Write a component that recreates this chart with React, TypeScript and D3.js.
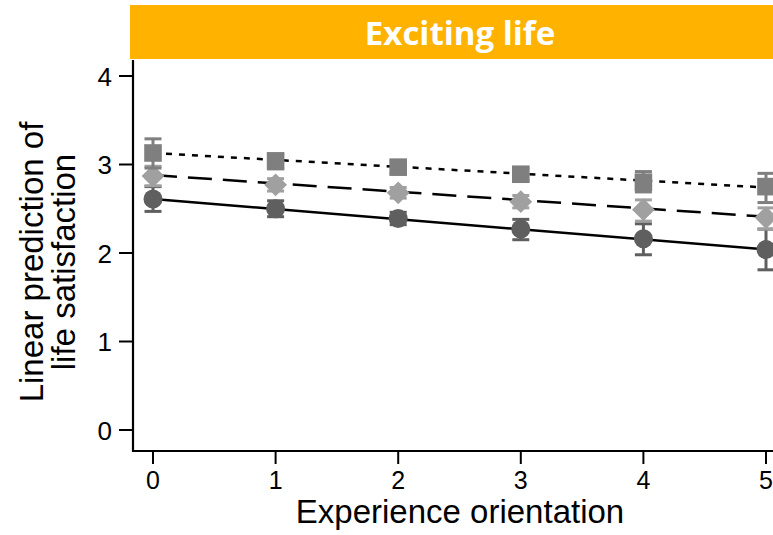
import React from "react";
import * as d3 from "d3";

const xValues = [0, 1, 2, 3, 4, 5];
const squareMean = [3.13, 3.04, 2.97, 2.89, 2.8, 2.75];
const squareLo = [2.96, 2.95, 2.9, 2.82, 2.69, 2.57];
const squareHi = [3.29, 3.12, 3.04, 2.96, 2.92, 2.9];
const squareFit = [3.13, 2.74];
const diamondMean = [2.87, 2.77, 2.68, 2.58, 2.49, 2.4];
const diamondLo = [2.76, 2.7, 2.62, 2.51, 2.36, 2.27];
const diamondHi = [2.98, 2.84, 2.74, 2.65, 2.6, 2.51];
const diamondFit = [2.88, 2.41];
const circleMean = [2.61, 2.5, 2.39, 2.27, 2.16, 2.04];
const circleLo = [2.47, 2.41, 2.32, 2.15, 1.98, 1.81];
const circleHi = [2.75, 2.59, 2.46, 2.38, 2.33, 2.27];
const circleFit = [2.61, 2.04];
const yTicks = [0, 1, 2, 3, 4];
const title = "Exciting life";
const xTitle = "Experience orientation";
const yTitle = ["Linear prediction of", "life satisfaction"];

const W = 773, H = 535;
const x = d3.scaleLinear().domain([0, 5]).range([153, 766]);
const y = d3.scaleLinear().domain([0, 4]).range([430, 76]);

type S = { mean: number[]; lo: number[]; hi: number[]; fit: number[]; color: string; shape: string; dash: string };
const series: S[] = [
  { mean: circleMean, lo: circleLo, hi: circleHi, fit: circleFit, color: "#5f5f5f", shape: "circle", dash: "none" },
  { mean: diamondMean, lo: diamondLo, hi: diamondHi, fit: diamondFit, color: "#a0a0a0", shape: "diamond", dash: "24,11" },
  { mean: squareMean, lo: squareLo, hi: squareHi, fit: squareFit, color: "#7f7f7f", shape: "square", dash: "6,7" },
];

const symGen = (shape: string) => {
  if (shape === "circle") return d3.symbol(d3.symbolCircle, 285)();
  if (shape === "square") return d3.symbol(d3.symbolSquare, 310)();
  return d3.symbol(d3.symbolDiamond2, 330)();
};

export default function App() {
  const line = d3.line<[number, number]>().x((d) => x(d[0])).y((d) => y(d[1]));
  const font = "'Liberation Sans', Arial, sans-serif";
  const axisY = 451;
  return (
    <svg width={W} height={H} style={{ position: "absolute", left: 0, top: 0, background: "#fff" }}>
      <rect x={130} y={5} width={680} height={54} fill="#FFB300" />
      <text x={460} y={45} textAnchor="middle" fill="#fff" fontFamily="'Open Sans', sans-serif" fontWeight="bold" fontSize={33}>{title}</text>
      {/* axes */}
      <line x1={133} x2={133} y1={60} y2={axisY + 1} stroke="#000" strokeWidth={2.2} />
      <line x1={132} x2={W + 10} y1={axisY} y2={axisY} stroke="#000" strokeWidth={2.2} />
      {yTicks.map((t) => (
        <g key={t}>
          <line x1={119} x2={133} y1={y(t)} y2={y(t)} stroke="#000" strokeWidth={2} />
          <text x={112} y={y(t) + 9.5} textAnchor="end" fontFamily={font} fontSize={26}>{t}</text>
        </g>
      ))}
      {xValues.map((t) => (
        <g key={t}>
          <line x1={x(t)} x2={x(t)} y1={axisY} y2={464} stroke="#000" strokeWidth={2} />
          <text x={x(t)} y={489} textAnchor="middle" fontFamily={font} fontSize={25}>{t}</text>
        </g>
      ))}
      <text x={460} y={523} textAnchor="middle" fontFamily={font} fontSize={33}>{xTitle}</text>
      <g transform="translate(0,262) rotate(-90)">
        <text x={0} y={43} textAnchor="middle" fontFamily={font} fontSize={33}>{yTitle[0]}</text>
        <text x={0} y={75} textAnchor="middle" fontFamily={font} fontSize={33}>{yTitle[1]}</text>
      </g>
      {/* fit lines */}
      {series.map((s, i) => (
        <path key={"l" + i} d={line([[0, s.fit[0]], [5, s.fit[1]]]) || ""} fill="none" stroke="#000" strokeWidth={2.5} strokeDasharray={s.dash} />
      ))}
      {/* error bars and markers */}
      {series.map((s, i) => (
        <g key={"m" + i}>
          {xValues.map((xv, j) => (
            <g key={j} stroke={s.color} strokeWidth={3}>
              <line x1={x(xv)} x2={x(xv)} y1={y(s.lo[j])} y2={y(s.hi[j])} />
              <line x1={x(xv) - 8.5} x2={x(xv) + 8.5} y1={y(s.lo[j])} y2={y(s.lo[j])} />
              <line x1={x(xv) - 8.5} x2={x(xv) + 8.5} y1={y(s.hi[j])} y2={y(s.hi[j])} />
            </g>
          ))}
          {xValues.map((xv, j) => (
            <path key={"p" + j} d={symGen(s.shape) || ""} transform={`translate(${x(xv)},${y(s.mean[j])})`} fill={s.color} />
          ))}
        </g>
      ))}
    </svg>
  );
}
